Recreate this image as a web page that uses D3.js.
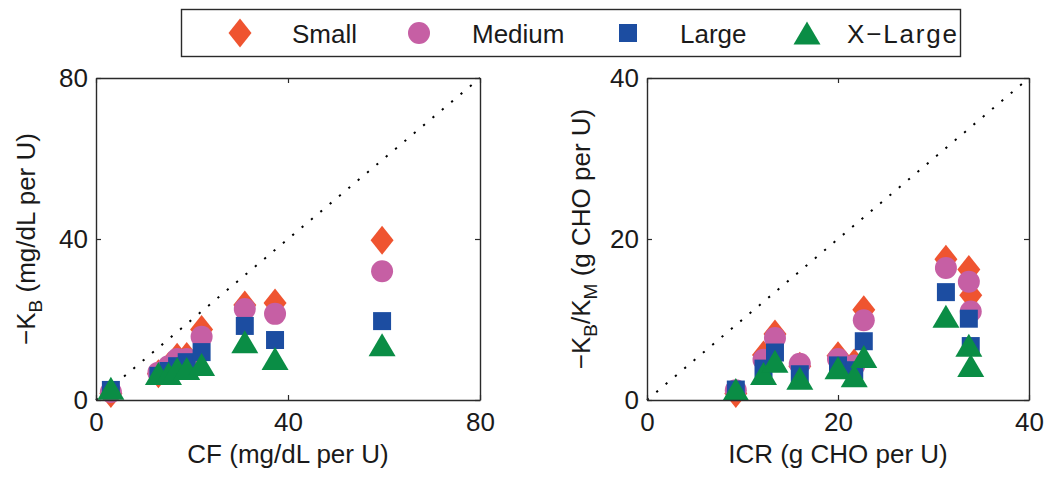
<!DOCTYPE html>
<html>
<head>
<meta charset="utf-8">
<script src="https://cdn.jsdelivr.net/npm/d3@7"></script>
<style>
  html, body { margin: 0; padding: 0; background: #fff; }
  svg { display: block; }
  text { font-family: "Liberation Sans", Arial, Helvetica, sans-serif; fill: #1a1a1a; }
</style>
</head>
<body>
<svg id="chart" width="1050" height="478"></svg>
<script>
// ---- Data ----
const seriesNames = ["Small", "Medium", "Large", "X\u2212Large"];

// Left panel: CF (mg/dL per U) vs -K_B (mg/dL per U)
const cfValues   = [3.1, 13.0, 15.1, 16.9, 18.9, 22.0, 31.0, 37.3, 59.6];
const kbSmall    = [1.6, 6.5, 8.3, 10.6, 10.8, 17.5, 23.6, 24.1, 39.7];
const kbMedium   = [2.0, 6.8, 8.4, 10.2, 10.2, 15.7, 22.6, 21.4, 32.0];
const kbLarge    = [2.5, 6.0, 7.2, 8.4, 9.4, 11.9, 18.4, 14.9, 19.6];
const kbXLarge   = [2.9, 6.6, 6.6, 7.8, 7.8, 8.8, 14.5, 10.3, 13.7];

// Right panel: ICR (g CHO per U) vs -K_B/K_M (g CHO per U)
const icrValues   = [9.3, 12.2, 13.4, 16.0, 20.0, 21.7, 22.7, 31.3, 33.7, 33.9];
const ratioSmall  = [0.8, 5.6, 8.2, 4.2, 5.5, 4.6, 11.2, 17.5, 16.2, 13.0];
const ratioMedium = [1.2, 5.0, 7.7, 4.5, 5.1, 4.3, 9.9, 16.4, 14.7, 11.0];
const ratioLarge  = [1.3, 3.9, 5.9, 3.2, 4.3, 3.7, 7.3, 13.4, 10.1, 6.7];
const ratioXLarge = [1.3, 3.3, 4.8, 2.7, 4.0, 3.0, 5.4, 10.4, 6.8, 4.3];

const leftTicks  = [0, 40, 80];
const rightTicks = [0, 20, 40];

// ---- Style ----
const colors = ["#ef5430", "#c65fa4", "#1c4da1", "#0a8d45"];
const shapes = [
  "M0,-14.5L11.5,0L0,14.5L-11.5,0Z",                       // diamond
  d3.arc()({innerRadius: 0, outerRadius: 11, startAngle: 0, endAngle: 2 * Math.PI}), // circle
  "M-9,-9H9V9H-9Z",                                         // square
  "M0,-11.5L13.5,11.5L-13.5,11.5Z"                          // triangle
];
const FONT = 26;

const svg = d3.select("#chart");

function panel(opts) {
  const { x0, x1, y0, y1, domain, ticks, xs, ysList, xlabel, ylabelParts, ylabelX } = opts;
  const x = d3.scaleLinear().domain(domain).range([x0, x1]);
  const y = d3.scaleLinear().domain(domain).range([y1, y0]);
  const g = svg.append("g");

  // dotted identity line
  g.append("line")
    .attr("x1", x(domain[0])).attr("y1", y(domain[0]))
    .attr("x2", x(domain[1])).attr("y2", y(domain[1]))
    .attr("stroke", "#000").attr("stroke-width", 2)
    .attr("stroke-dasharray", "2.2,10");

  // markers
  ysList.forEach((vals, si) => {
    g.append("g").selectAll("path")
      .data(vals.map((v, i) => [xs[i], v]))
      .join("path")
      .attr("d", shapes[si])
      .attr("fill", colors[si])
      .attr("transform", d => `translate(${x(d[0])},${y(d[1])})`);
  });

  const axStyle = sel => {
    sel.selectAll(".domain").attr("stroke", "#2a2a2a").attr("stroke-width", 1.4);
    sel.selectAll(".tick line").attr("stroke", "#2a2a2a").attr("stroke-width", 1.2);
    sel.selectAll(".tick text").style("font-size", FONT + "px")
      .style("font-family", '"Liberation Sans", Arial, sans-serif').attr("fill", "#1a1a1a");
  };

  g.append("g").attr("transform", `translate(0,${y1})`)
    .call(d3.axisBottom(x).tickValues(ticks).tickSize(-5).tickSizeOuter(0).tickPadding(13))
    .call(axStyle);
  g.append("g").attr("transform", `translate(${x0},0)`)
    .call(d3.axisLeft(y).tickValues(ticks).tickSize(-5).tickSizeOuter(0).tickPadding(8))
    .call(axStyle);
  g.append("g").attr("transform", `translate(0,${y0})`)
    .call(d3.axisTop(x).tickValues(ticks).tickSize(-5).tickSizeOuter(0).tickFormat(""))
    .call(axStyle);
  g.append("g").attr("transform", `translate(${x1},0)`)
    .call(d3.axisRight(y).tickValues(ticks).tickSize(-5).tickSizeOuter(0).tickFormat(""))
    .call(axStyle);

  // x label
  g.append("text")
    .attr("x", (x0 + x1) / 2).attr("y", 463)
    .attr("text-anchor", "middle")
    .style("font-size", FONT + "px")
    .text(xlabel);

  // y label with subscripts
  const yl = g.append("text")
    .attr("transform", `translate(${ylabelX},${(y0 + y1) / 2}) rotate(-90)`)
    .attr("text-anchor", "middle")
    .style("font-size", FONT + "px");
  ylabelParts.forEach(p => {
    const t = yl.append("tspan").text(p.t);
    if (p.sub) t.attr("dy", 7).style("font-size", "19px");
    if (p.after) t.attr("dy", -7);
  });
}

panel({
  x0: 96, x1: 480, y0: 78, y1: 400,
  domain: [0, 80], ticks: leftTicks,
  xs: cfValues, ysList: [kbSmall, kbMedium, kbLarge, kbXLarge],
  xlabel: "CF (mg/dL per U)",
  ylabelX: 35,
  ylabelParts: [{t: "\u2212K"}, {t: "B", sub: true}, {t: " (mg/dL per U)", after: true}]
});

panel({
  x0: 647, x1: 1029, y0: 78, y1: 400,
  domain: [0, 40], ticks: rightTicks,
  xs: icrValues, ysList: [ratioSmall, ratioMedium, ratioLarge, ratioXLarge],
  xlabel: "ICR (g CHO per U)",
  ylabelX: 590,
  ylabelParts: [{t: "\u2212K"}, {t: "B", sub: true}, {t: "/K", after: true}, {t: "M", sub: true}, {t: " (g CHO per U)", after: true}]
});

// ---- Legend ----
const legend = svg.append("g");
legend.append("rect")
  .attr("x", 181.5).attr("y", 9.5).attr("width", 779).attr("height", 47)
  .attr("fill", "#fff").attr("stroke", "#2a2a2a").attr("stroke-width", 1.4);
const legendMarkerX = [240, 419, 628, 807];
const legendTextX = [292, 472, 680, 847];
seriesNames.forEach((name, i) => {
  legend.append("path").attr("d", shapes[i]).attr("fill", colors[i])
    .attr("transform", `translate(${legendMarkerX[i]},33)`);
  const t = legend.append("text").attr("x", legendTextX[i]).attr("y", 43)
    .style("font-size", FONT + "px").text(name);
  if (i === 3) t.attr("textLength", 110).attr("lengthAdjust", "spacing");
});
</script>
</body>
</html>
